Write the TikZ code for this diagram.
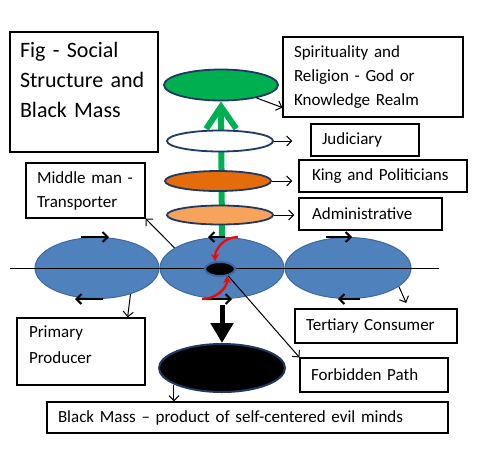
\documentclass[tikz,border=0pt]{standalone}
\usepackage{fontspec}
\setmainfont{Carlito}
\usepackage{tikz}
\usetikzlibrary{shapes.geometric, positioning, arrows.meta, backgrounds}

\definecolor{navy}{HTML}{1F3864}
\definecolor{bluefill}{HTML}{4F81BD}
\definecolor{blueedge}{HTML}{3C6AA0}
\definecolor{leafgreen}{HTML}{00B050}
\definecolor{rust}{HTML}{E46C0A}
\definecolor{peach}{HTML}{F8A35C}

\begin{document}
\begin{tikzpicture}[x=1pt, y=-1pt, >={Straight Barb[length=5pt,width=10pt]}]

  % Define block styles
  \tikzstyle{box} = [rectangle, draw, line width=1.2pt, align=left, inner xsep=11pt, inner ysep=0pt, font=\fontsize{17}{24}\selectfont]
  \tikzstyle{rank} = [ellipse, draw=navy, line width=1.8pt, inner sep=0pt, minimum width=106pt, minimum height=20pt]
  \tikzstyle{trade} = [ellipse, draw=blueedge, fill=bluefill, line width=1pt, inner sep=0pt, minimum width=124pt, minimum height=61pt]
  \tikzstyle{arrow} = [line width=1pt, ->]
  \tikzstyle{cycle} = [line width=2pt, ->]
  \tikzstyle{swirl} = [line width=2.2pt, red, -{Stealth[length=7pt,width=8pt]}]

  \useasboundingbox (0,0) rectangle (497,458);

  % Title
  \node (title) [box, font=\fontsize{22}{30}\selectfont, inner xsep=10pt, text width=128pt, minimum height=120pt, text depth=85pt] at (84,92) {Fig - Social\\Structure and\\Black Mass};

  % Hierarchy
  \node (god) [rank, fill=leafgreen, minimum width=114pt, minimum height=31pt] at (221,85) {};
  \node (judic) [rank, fill=white, minimum height=21pt] at (220,141) {};
  \node (king) [rank, fill=rust] at (218,181) {};
  \node (admin) [rank, fill=peach, minimum height=19pt] at (220,215) {};

  % Trade ring
  \node (mid) [trade] at (222,268) {};
  \node (prim) [trade, left=0pt of mid] {};
  \node (tert) [trade, minimum width=126pt, right=0pt of mid] {};
  \draw [line width=1pt] ([xshift=-25pt]prim.west) -- ([xshift=27pt]tert.east);
  \node (core) [ellipse, draw=blueedge, fill=black, line width=2pt, inner sep=0pt, minimum width=30pt, minimum height=14pt] at (220,269) {};
  \node (mass) [ellipse, draw=navy, fill=black, line width=2pt, inner sep=0pt, minimum width=126pt, minimum height=48pt] at (222,368) {};

  % Labels
  \node (spirit) [box, text width=158pt, minimum height=80pt] at (373,77) {Spirituality and\\Religion - God or\\Knowledge Realm};
  \node (judbox) [box, text width=86pt, minimum height=32pt] at (365,140) {Judiciary};
  \node (kingbox) [box, inner xsep=13pt, text width=142pt, minimum height=32pt] at (383,176) {King and Politicians};
  \node (adminbox) [box, inner xsep=13pt, text width=117pt, minimum height=32pt] at (370.5,214) {Administrative};
  \node (middle) [box, text width=97pt, minimum height=55pt] at (85.5,190.5) {Middle man -\\Transporter};
  \node (primary) [box, font=\fontsize{17}{26}\selectfont, inner xsep=12pt, text width=104pt, minimum height=67pt, text depth=40pt] at (81,351.5) {Primary\\Producer};
  \node (tertiary) [box, text width=140pt, minimum height=34pt] at (376,326) {Tertiary Consumer};
  \node (forbid) [box, text width=126pt, minimum height=34pt] at (374,375) {Forbidden Path};
  \node (massbox) [box, text width=379pt, minimum height=31pt] at (247.5,417.5) {Black Mass -- product of self-centered evil minds};

  % Arrows
  \begin{scope}[on background layer]
    \draw [leafgreen, line width=6pt, -{Straight Barb[length=22pt,width=30pt]}] (mid.north) -- (god.south);
  \end{scope}
  \draw [line width=5pt, -{Triangle[length=20pt,width=22pt]}] ([yshift=-6pt]mid.south) -- (mass.north);

  \draw [arrow] (god.-20) -- ([yshift=10pt]spirit.south west);
  \draw [arrow, shorten >=18pt] (judic.east) -- (judic.east -| judbox.west);
  \draw [arrow, shorten >=6pt] (king.east) -- (king.east -| kingbox.west);
  \draw [arrow, shorten >=4pt] (admin.east) -- (admin.east -| adminbox.west);
  \draw [arrow] (mid.157) -- (middle.south east);
  \draw [arrow] (prim.-38) -- ([xshift=-18pt]primary.north east);
  \draw [arrow, shorten >=6pt] (tert.-20) -- ([xshift=-49pt]tertiary.north east);
  \draw [arrow] (core.-40) -- (forbid.north west);
  \draw [arrow] (mass.199) -- (mass.199 |- massbox.north);

  % Circulation
  \draw [cycle] ([xshift=-16pt]prim.north) -- ([xshift=12pt]prim.north);
  \draw [cycle] ([xshift=6pt]prim.south) -- ([xshift=-22pt]prim.south);
  \draw [cycle] ([xshift=3pt]mid.north) -- ([xshift=-14pt]mid.north);
  \draw [cycle] ([xshift=-20pt]mid.south) -- ([xshift=10pt]mid.south);
  \draw [cycle] ([xshift=-22pt]tert.north) -- ([xshift=4pt]tert.north);
  \draw [cycle] ([xshift=12pt]tert.south) -- ([xshift=-10pt]tert.south);

  \draw [swirl] ([xshift=16pt]mid.north) .. controls +(-14,0) and +(0,-12) .. ([xshift=-5pt]core.north);
  \draw [swirl] ([xshift=-20pt]mid.south) .. controls +(14,0) and +(0,12) .. (core.-45);

\end{tikzpicture}
\end{document}
